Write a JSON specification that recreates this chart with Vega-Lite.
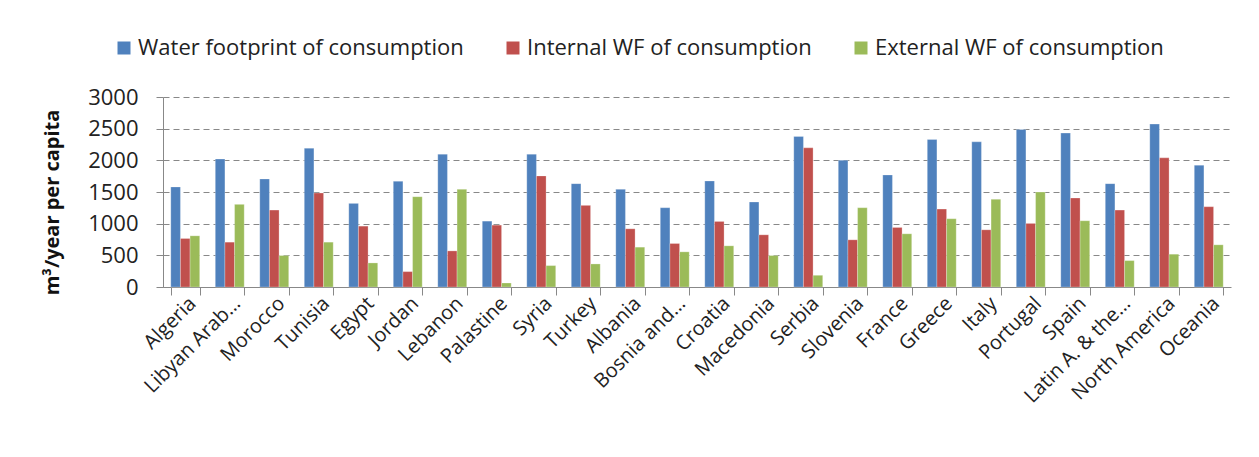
{
  "$schema": "https://vega.github.io/schema/vega-lite/v6.json",
  "autosize": {"type": "none"},
  "width": 1068,
  "height": 190,
  "padding": {"left": 163, "top": 97, "right": 28, "bottom": 170},
  "background": "white",
  "config": {
    "font": "Open Sans",
    "view": {"stroke": null},
    "axis": {"labelFont": "Open Sans", "titleFont": "Open Sans", "labelColor": "#222", "titleColor": "#111"}
  },
  "data": {
    "values": [
      {"country": "Algeria", "series": "Water footprint of consumption", "value": 1580},
      {"country": "Algeria", "series": "Internal WF of consumption", "value": 766},
      {"country": "Algeria", "series": "External WF of consumption", "value": 808},
      {"country": "Libyan Arab…", "series": "Water footprint of consumption", "value": 2020},
      {"country": "Libyan Arab…", "series": "Internal WF of consumption", "value": 708},
      {"country": "Libyan Arab…", "series": "External WF of consumption", "value": 1305},
      {"country": "Morocco", "series": "Water footprint of consumption", "value": 1706},
      {"country": "Morocco", "series": "Internal WF of consumption", "value": 1215},
      {"country": "Morocco", "series": "External WF of consumption", "value": 497},
      {"country": "Tunisia", "series": "Water footprint of consumption", "value": 2192},
      {"country": "Tunisia", "series": "Internal WF of consumption", "value": 1484},
      {"country": "Tunisia", "series": "External WF of consumption", "value": 708},
      {"country": "Egypt", "series": "Water footprint of consumption", "value": 1320},
      {"country": "Egypt", "series": "Internal WF of consumption", "value": 961},
      {"country": "Egypt", "series": "External WF of consumption", "value": 380},
      {"country": "Jordan", "series": "Water footprint of consumption", "value": 1669},
      {"country": "Jordan", "series": "Internal WF of consumption", "value": 243},
      {"country": "Jordan", "series": "External WF of consumption", "value": 1426},
      {"country": "Lebanon", "series": "Water footprint of consumption", "value": 2097},
      {"country": "Lebanon", "series": "Internal WF of consumption", "value": 570},
      {"country": "Lebanon", "series": "External WF of consumption", "value": 1542},
      {"country": "Palastine", "series": "Water footprint of consumption", "value": 1040},
      {"country": "Palastine", "series": "Internal WF of consumption", "value": 977},
      {"country": "Palastine", "series": "External WF of consumption", "value": 63},
      {"country": "Syria", "series": "Water footprint of consumption", "value": 2097},
      {"country": "Syria", "series": "Internal WF of consumption", "value": 1754},
      {"country": "Syria", "series": "External WF of consumption", "value": 338},
      {"country": "Turkey", "series": "Water footprint of consumption", "value": 1632},
      {"country": "Turkey", "series": "Internal WF of consumption", "value": 1289},
      {"country": "Turkey", "series": "External WF of consumption", "value": 364},
      {"country": "Albania", "series": "Water footprint of consumption", "value": 1542},
      {"country": "Albania", "series": "Internal WF of consumption", "value": 919},
      {"country": "Albania", "series": "External WF of consumption", "value": 629},
      {"country": "Bosnia and…", "series": "Water footprint of consumption", "value": 1252},
      {"country": "Bosnia and…", "series": "Internal WF of consumption", "value": 687},
      {"country": "Bosnia and…", "series": "External WF of consumption", "value": 555},
      {"country": "Croatia", "series": "Water footprint of consumption", "value": 1674},
      {"country": "Croatia", "series": "Internal WF of consumption", "value": 1035},
      {"country": "Croatia", "series": "External WF of consumption", "value": 650},
      {"country": "Macedonia", "series": "Water footprint of consumption", "value": 1342},
      {"country": "Macedonia", "series": "Internal WF of consumption", "value": 824},
      {"country": "Macedonia", "series": "External WF of consumption", "value": 497},
      {"country": "Serbia", "series": "Water footprint of consumption", "value": 2377},
      {"country": "Serbia", "series": "Internal WF of consumption", "value": 2197},
      {"country": "Serbia", "series": "External WF of consumption", "value": 185},
      {"country": "Slovenia", "series": "Water footprint of consumption", "value": 2002},
      {"country": "Slovenia", "series": "Internal WF of consumption", "value": 745},
      {"country": "Slovenia", "series": "External WF of consumption", "value": 1252},
      {"country": "France", "series": "Water footprint of consumption", "value": 1769},
      {"country": "France", "series": "Internal WF of consumption", "value": 940},
      {"country": "France", "series": "External WF of consumption", "value": 840},
      {"country": "Greece", "series": "Water footprint of consumption", "value": 2329},
      {"country": "Greece", "series": "Internal WF of consumption", "value": 1231},
      {"country": "Greece", "series": "External WF of consumption", "value": 1078},
      {"country": "Italy", "series": "Water footprint of consumption", "value": 2292},
      {"country": "Italy", "series": "Internal WF of consumption", "value": 903},
      {"country": "Italy", "series": "External WF of consumption", "value": 1384},
      {"country": "Portugal", "series": "Water footprint of consumption", "value": 2488},
      {"country": "Portugal", "series": "Internal WF of consumption", "value": 1004},
      {"country": "Portugal", "series": "External WF of consumption", "value": 1500},
      {"country": "Spain", "series": "Water footprint of consumption", "value": 2430},
      {"country": "Spain", "series": "Internal WF of consumption", "value": 1405},
      {"country": "Spain", "series": "External WF of consumption", "value": 1046},
      {"country": "Latin A. & the…", "series": "Water footprint of consumption", "value": 1632},
      {"country": "Latin A. & the…", "series": "Internal WF of consumption", "value": 1215},
      {"country": "Latin A. & the…", "series": "External WF of consumption", "value": 417},
      {"country": "North America", "series": "Water footprint of consumption", "value": 2572},
      {"country": "North America", "series": "Internal WF of consumption", "value": 2039},
      {"country": "North America", "series": "External WF of consumption", "value": 518},
      {"country": "Oceania", "series": "Water footprint of consumption", "value": 1923},
      {"country": "Oceania", "series": "Internal WF of consumption", "value": 1268},
      {"country": "Oceania", "series": "External WF of consumption", "value": 666}
    ]
  },
  "mark": {"type": "bar", "stroke": "white", "strokeOpacity": 0.5, "strokeWidth": 0.5},
  "encoding": {
    "x": {
      "field": "country",
      "type": "nominal",
      "sort": null,
      "scale": {"paddingInner": 0.35, "paddingOuter": 0.175},
      "axis": {
        "title": null,
        "labelAngle": -45,
        "labelFontSize": 20,
        "labelPadding": -2,
        "tickBand": "extent",
        "tickSize": 8,
        "tickColor": "#888",
        "domainColor": "#888",
        "grid": false
      }
    },
    "xOffset": {
      "field": "series",
      "type": "nominal",
      "sort": ["Water footprint of consumption", "Internal WF of consumption", "External WF of consumption"]
    },
    "y": {
      "field": "value",
      "type": "quantitative",
      "scale": {"domain": [0, 3000], "nice": false},
      "axis": {
        "title": "m³/year per capita",
        "titleFontSize": 20,
        "titleFontWeight": "bold",
        "titlePadding": 25,
        "titleAlign": "center",
        "titleY": 105,
        "values": [0, 500, 1000, 1500, 2000, 2500, 3000],
        "format": "d",
        "labelFontSize": 22,
        "labelPadding": 18,
        "tickSize": 7,
        "tickColor": "#888",
        "domainColor": "#888",
        "grid": true,
        "gridColor": "#888",
        "gridDash": [6, 4],
        "gridWidth": 1
      }
    },
    "color": {
      "field": "series",
      "type": "nominal",
      "scale": {
        "domain": ["Water footprint of consumption", "Internal WF of consumption", "External WF of consumption"],
        "range": ["#4F81BD", "#C0504D", "#9BBB59"]
      },
      "legend": {
        "title": null,
        "orient": "none",
        "direction": "horizontal",
        "legendX": -50,
        "legendY": -60,
        "symbolType": "square",
        "symbolSize": 169,
        "symbolStrokeWidth": 0,
        "labelFontSize": 22,
        "labelLimit": 0,
        "labelColor": "#222",
        "labelOffset": 3,
        "columnPadding": 38
      }
    }
  }
}
